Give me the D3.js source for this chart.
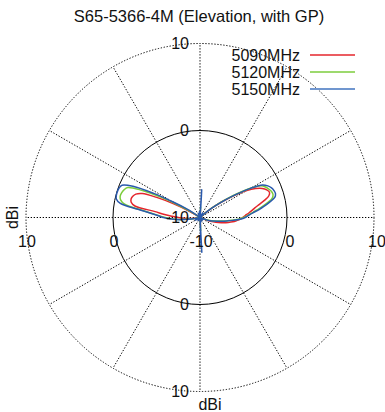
<!DOCTYPE html>
<html>
<head>
<meta charset="utf-8">
<script src="https://cdn.jsdelivr.net/npm/d3@7"></script>
<style>
  html, body { margin: 0; padding: 0; background: #fff; }
  svg { display: block; font-family: "Liberation Sans", Arial, sans-serif; }
</style>
</head>
<body>
<svg id="chart" width="385" height="412"></svg>
<script>
// Elevation cut, angle in degrees counter-clockwise from the right-hand horizon
const angles = [
  -30, -25, -20, -17.5, -15, -12.5, -10, -7.5, -5, -2.5,
  0, 2.5, 5, 7.5, 10, 12.5, 15, 17.5, 20, 22.5,
  25, 27.5, 30, 32.5, 35, 37.5, 40, 42.5, 45, 50,
  60, 70, 80, 84, 86.5, 89, 95, 100, 110, 120,
  130, 140, 142.5, 145, 147.5, 150, 152.5, 155, 157.5, 160,
  162.5, 165, 167.5, 170, 172.5, 175, 177.5, 180, 182.5, 185,
  187.5, 190, 195, 200, 210, 220, 240, 260, 270, 273,
  276, 285, 300, 315
];

// Gain in dBi for each angle
const gain5090 = [
  -12, -10.5, -9.0, -8.4, -7.8, -7.2, -6.7, -6.2, -5.8, -5.4,
  -5.1, -4.8, -4.4, -4.0, -3.6, -3.0, -2.3, -1.7, -1.5, -1.7,
  -2.1, -2.8, -3.8, -5.2, -6.6, -7.8, -8.8, -9.6, -10.5, -12,
  -12, -12, -12, -11, -9.2, -11, -12, -12, -12, -12,
  -12, -12, -11.5, -10.5, -9.6, -8.4, -6.6, -4.6, -2.8, -2.15,
  -1.9, -1.8, -1.9, -2.4, -4.8, -5.8, -6.8, -7.5, -8.2, -8.8,
  -9.4, -10, -11, -12, -12, -12, -12, -12, -11, -9.0,
  -11, -12, -12, -12
];
const gain5120 = [
  -13, -11.5, -9.5, -9.0, -8.6, -8.2, -7.7, -7.0, -6.3, -5.6,
  -5.0, -4.5, -4.0, -3.4, -2.7, -2.0, -1.4, -1.2, -1.25, -1.45,
  -1.7, -2.1, -3.2, -4.8, -6.3, -7.6, -8.7, -9.5, -10.5, -11.5,
  -12, -12, -12, -11, -8.8, -11, -12, -12, -12, -12,
  -12, -12, -11, -9.8, -8.8, -7.3, -5.0, -2.6, -1.0, -0.7,
  -0.55, -0.5, -0.65, -1.2, -3.0, -4.4, -5.3, -6.0, -6.7, -7.5,
  -8.4, -9.2, -10.5, -12, -12, -12, -12, -12, -11, -8.5,
  -11, -12, -12, -12
];
const gain5150 = [
  -13, -11, -9.2, -8.8, -8.4, -8.0, -7.5, -6.9, -6.2, -5.4,
  -4.8, -4.4, -3.9, -3.2, -2.5, -1.8, -1.1, -0.9, -0.95, -1.1,
  -1.4, -1.9, -3.3, -5.0, -6.5, -7.8, -8.8, -9.5, -10.5, -11.5,
  -9.4, -12, -11, -10.5, -6.8, -10.5, -9.3, -12, -9.5, -11,
  -12, -11, -10, -9.0, -8.0, -6.5, -4.0, -1.5, -0.3, -0.1,
  -0.05, -0.05, -0.15, -0.7, -2.8, -4.3, -5.2, -5.8, -6.5, -7.3,
  -8.2, -9.0, -10.5, -12, -9.4, -12, -9.6, -11, -10.5, -6.0,
  -10.5, -9.5, -12, -9.6
];

const seriesNames = ["5090MHz", "5120MHz", "5150MHz"];
const seriesGains = [gain5090, gain5120, gain5150];
const seriesColors = ["#e4262c", "#7ccd3c", "#2a5aad"];
const legendColors = ["#e4262c", "#7ccd3c", "#7096cf"];

const radialTicks = [-10, 0, 10];
const spokeAngles = [0, 30, 60, 90, 120, 150, 180, 210, 240, 270, 300, 330];
const titleText = "S65-5366-4M (Elevation, with GP)";
const unitText = "dBi";

const svg = d3.select("#chart");
const cx = 200, cy = 217.5, R = 174;

const r = d3.scaleLinear().domain([-10, 10]).range([0, R]).clamp(true);
// math-convention degrees -> lineRadial angle (0 = up, clockwise)
const toRad = deg => (90 - deg) * Math.PI / 180;

svg.append("rect").attr("width", 385).attr("height", 412).attr("fill", "#fff");

svg.append("text")
  .attr("x", 199).attr("y", 22)
  .attr("text-anchor", "middle")
  .attr("font-size", 16.5)
  .attr("fill", "#111")
  .text(titleText);

const g = svg.append("g").attr("transform", `translate(${cx},${cy})`);

// spokes
g.selectAll("line.spoke").data(spokeAngles).join("line")
  .attr("class", "spoke")
  .attr("x1", 0).attr("y1", 0)
  .attr("x2", d => R * Math.cos(d * Math.PI / 180))
  .attr("y2", d => -R * Math.sin(d * Math.PI / 180))
  .attr("stroke", "#000")
  .attr("stroke-width", 1)
  .attr("stroke-dasharray", "1.3,1.7");

// outer ring dotted, 0 dBi ring solid
g.append("circle").attr("r", r(10))
  .attr("fill", "none").attr("stroke", "#000")
  .attr("stroke-width", 1).attr("stroke-dasharray", "1.3,1.7");
g.append("circle").attr("r", r(0))
  .attr("fill", "none").attr("stroke", "#000").attr("stroke-width", 1);

// pattern traces
const line = d3.lineRadial()
  .angle(d => toRad(d[0]))
  .radius(d => r(d[1]))
  .curve(d3.curveCatmullRomClosed.alpha(0.5));

seriesGains.forEach((gains, i) => {
  const pts = angles.map((a, k) => [a, gains[k]]);
  g.append("path")
    .attr("d", line(pts))
    .attr("fill", "none")
    .attr("stroke", seriesColors[i])
    .attr("stroke-width", 1.5)
    .attr("stroke-linejoin", "round");
});

// radial tick labels along the vertical axis
const vTicks = [];
radialTicks.forEach(t => {
  vTicks.push({ t, y: -r(t) });
  if (t !== -10) vTicks.push({ t, y: r(t) });
});
g.selectAll("text.vtick").data(vTicks).join("text")
  .attr("class", "vtick")
  .attr("x", -11).attr("y", d => d.y + 5.5)
  .attr("text-anchor", "end")
  .attr("font-size", 16)
  .attr("fill", "#111")
  .text(d => d.t);

// radial tick labels along the horizontal axis
const hTicks = [];
radialTicks.forEach(t => {
  hTicks.push({ t, x: -r(t) });
  if (t !== -10) hTicks.push({ t, x: r(t) });
});
g.selectAll("text.htick").data(hTicks).join("text")
  .attr("class", "htick")
  .attr("x", d => d.x + (d.x > 0 ? 3 : 1))
  .attr("y", 29)
  .attr("text-anchor", "middle")
  .attr("font-size", 16)
  .attr("fill", "#111")
  .text(d => d.t);

// unit labels
g.append("text")
  .attr("x", 10).attr("y", R + 18)
  .attr("text-anchor", "middle")
  .attr("font-size", 16)
  .attr("fill", "#111")
  .text(unitText);
svg.append("text")
  .attr("transform", `translate(18,${cy}) rotate(-90)`)
  .attr("text-anchor", "middle")
  .attr("font-size", 16)
  .attr("fill", "#111")
  .text(unitText);

// legend
const legend = svg.append("g");
seriesNames.forEach((name, i) => {
  const y = 55 + i * 17;
  legend.append("text")
    .attr("x", 300).attr("y", y + 6)
    .attr("text-anchor", "end")
    .attr("font-size", 16)
    .attr("fill", "#111")
    .text(name);
  legend.append("line")
    .attr("x1", 310).attr("x2", 355)
    .attr("y1", y).attr("y2", y)
    .attr("stroke", legendColors[i])
    .attr("stroke-width", i === 2 ? 2 : 1.3);
});
</script>
</body>
</html>
